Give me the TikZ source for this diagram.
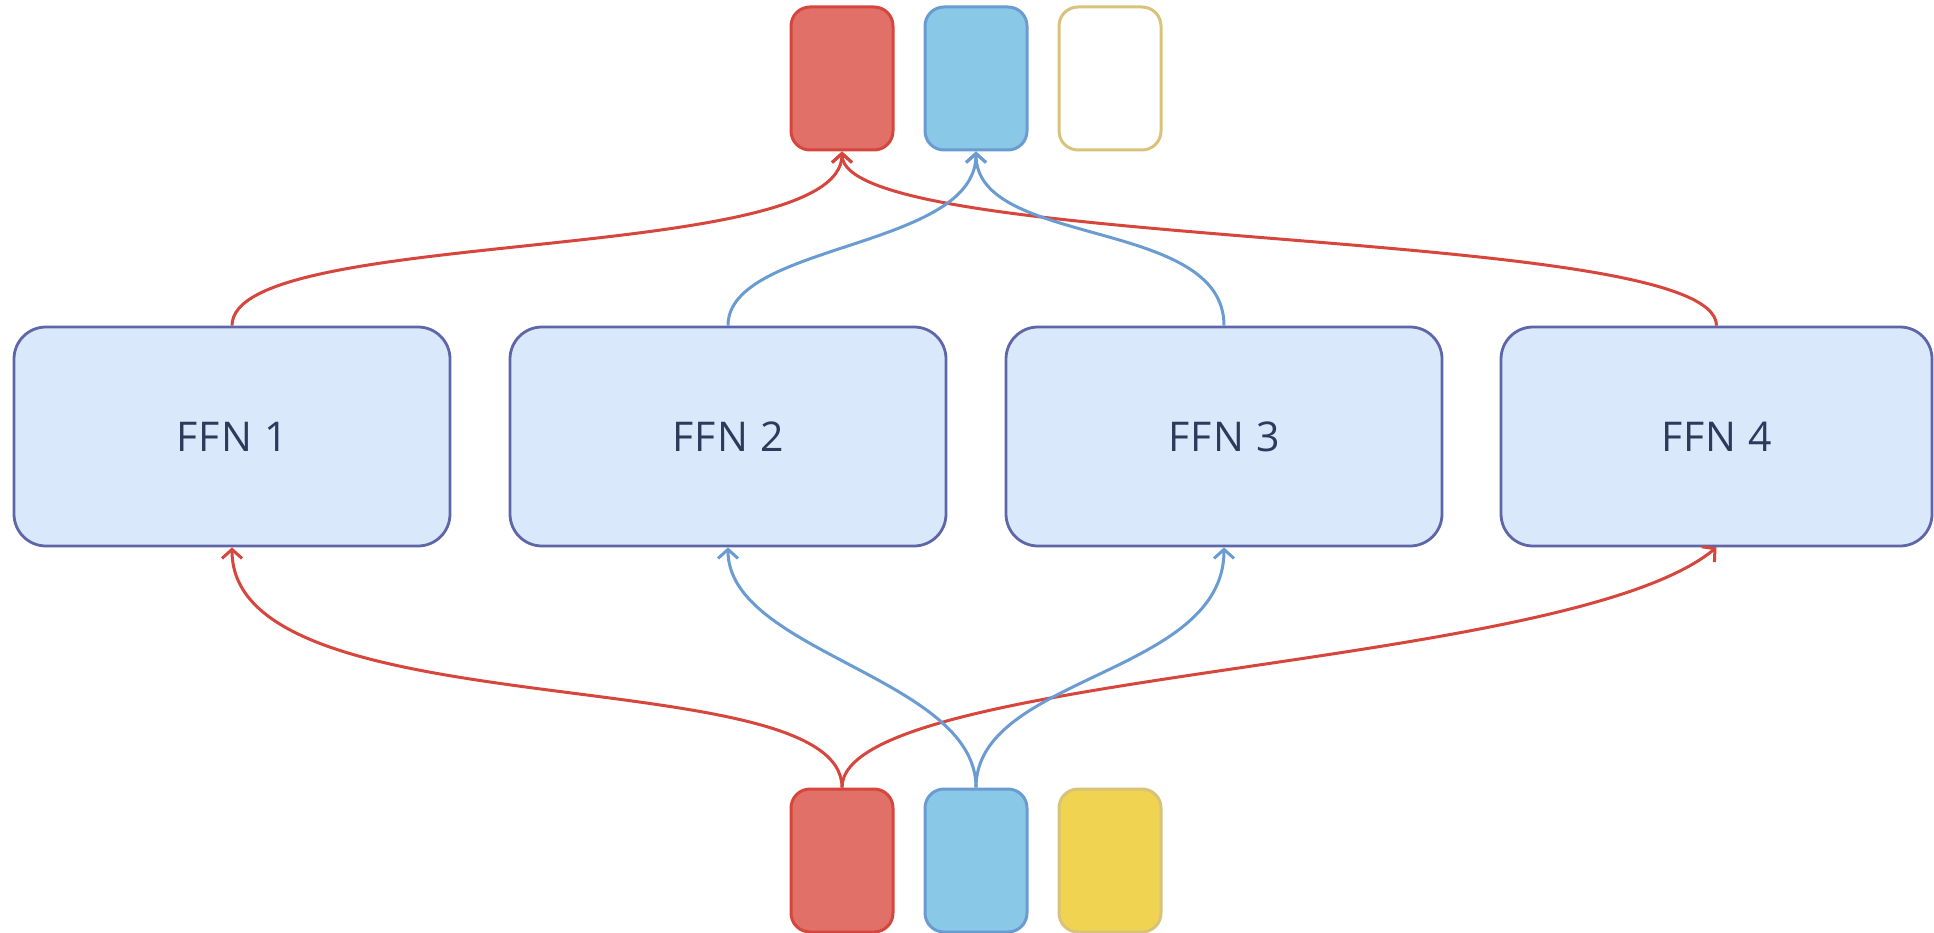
\documentclass[tikz,border=0pt]{standalone}
\usepackage{fontspec}
\setmainfont{Open Sans}[LetterSpace=3]
\usetikzlibrary{arrows.meta}
\definecolor{ffnfill}{HTML}{DAE8FC}
\definecolor{ffnline}{HTML}{5F66A8}
\definecolor{ffntext}{HTML}{2E3A5C}
\definecolor{redfill}{HTML}{E07068}
\definecolor{redline}{HTML}{D6463C}
\definecolor{bluefill}{HTML}{89C8E6}
\definecolor{blueline}{HTML}{6A9BD1}
\definecolor{yelfill}{HTML}{F0D350}
\definecolor{yelline}{HTML}{D9C27A}
\tikzset{
  ffn/.style={draw=ffnline, fill=ffnfill, line width=2.8pt, rounded corners=32pt,
    minimum width=436pt, minimum height=219pt, inner sep=0pt,
    text=ffntext, font=\fontsize{41}{43}\selectfont},
  token/.style={line width=3pt, rounded corners=19pt,
    minimum width=102pt, minimum height=143pt, inner sep=0pt},
  redtok/.style={token, draw=redline, fill=redfill},
  bluetok/.style={token, draw=blueline, fill=bluefill},
  yeltok/.style={token, draw=yelline, fill=yelfill},
  emptytok/.style={token, draw=yelline, fill=white},
  link/.style={line width=3pt, -{Straight Barb[length=9pt,width=20pt,line width=3pt]}},
  redlink/.style={link, draw=redline},
  bluelink/.style={link, draw=blueline},
}
\begin{document}
\begin{tikzpicture}[x=1pt, y=-1pt]
\useasboundingbox[fill=white] (0,0) rectangle (1934,933);

% output tokens
\node[redtok]   (or) at (842,78.5) {};
\node[bluetok]  (ob) at (976,78.5) {};
\node[emptytok] (oy) at (1110,78.5) {};

% experts
\node[ffn] (f1) at (232,436.5) {FFN 1};
\node[ffn] (f2) at (728,436.5) {FFN 2};
\node[ffn] (f3) at (1224,436.5) {FFN 3};
\node[ffn, minimum width=431pt] (f4) at (1716.5,436.5) {FFN 4};

% input tokens
\node[redtok]  (ir) at (842,860.5) {};
\node[bluetok] (ib) at (976,860.5) {};
\node[yeltok]  (iy) at (1110,860.5) {};

% routing into the experts
\draw[redlink]  (ir.north) .. controls +(0,-130) and +(0,185) .. (f1.south);
\draw[redlink]  (ir.north) .. controls +(0,-117) and +(-150,124) .. (f4.south);
\draw[bluelink] (ib.north) .. controls +(0,-110) and +(0,105) .. (f2.south);
\draw[bluelink] (ib.north) .. controls +(0,-112) and +(0,128) .. (f3.south);

% combining the expert outputs
\draw[redlink]  (f1.north) .. controls +(0,-100) and +(0,115) .. (or.south);
\draw[redlink]  (f4.north) .. controls +(0,-101) and +(0,101) .. (or.south);
\draw[bluelink] (f2.north) .. controls +(0,-83) and +(0,98) .. (ob.south);
\draw[bluelink] (f3.north) .. controls +(0,-109) and +(0,97) .. (ob.south);
\end{tikzpicture}
\end{document}
